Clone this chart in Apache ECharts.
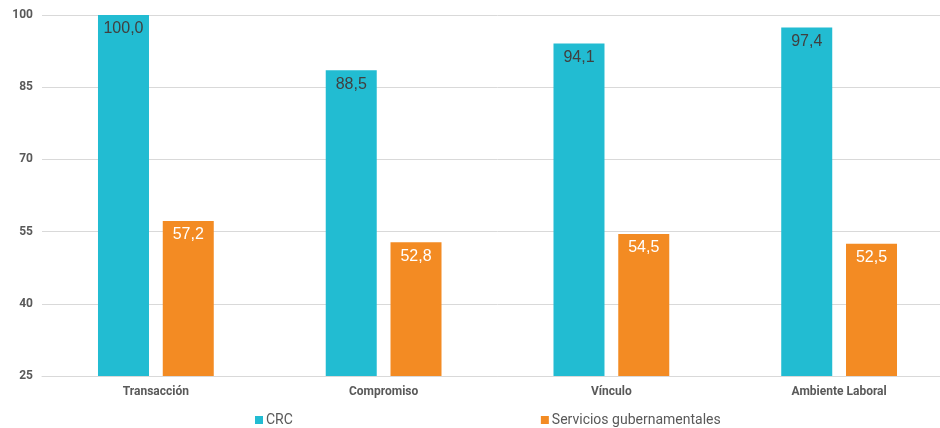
<!DOCTYPE html>
<html>
<head>
<meta charset="utf-8">
<script src="https://cdn.jsdelivr.net/npm/echarts@6/dist/echarts.min.js"></script>
<style>
  html, body { margin: 0; padding: 0; background: #fff; overflow: hidden; }
  /* the source picture is cropped on the right, so the canvas is a bit wider than the window */
  #chart { width: 953px; height: 428px; }
</style>
</head>
<body>
<div id="chart"></div>
<script>
// chart data
const categories = ["Transacción", "Compromiso", "Vínculo", "Ambiente Laboral"];
const crcValues = [100.0, 88.5, 94.1, 97.4];
const govValues = [57.2, 52.8, 54.5, 52.5];
const yTicks = [25, 40, 55, 70, 85, 100];

const fmt = (p) => p.value.toFixed(1).replace(".", ",");

const chart = echarts.init(document.getElementById("chart"), null, { renderer: "canvas" });

chart.setOption({
  animation: false,
  backgroundColor: "#ffffff",
  textStyle: { fontFamily: "Roboto, Arial, sans-serif" },
  grid: { left: 42, right: 0, top: 15, bottom: 52, containLabel: false },
  legend: {
    top: 408,
    left: 250,
    itemWidth: 8,
    itemHeight: 8,
    itemGap: 248,
    icon: "rect",
    textStyle: { color: "#595959", fontSize: 14, fontFamily: "Roboto, Arial, sans-serif", padding: [0, 0, 0, -2] },
    data: ["CRC", "Servicios gubernamentales"]
  },
  xAxis: {
    type: "category",
    data: categories,
    axisLine: { lineStyle: { color: "#d9d9d9" } },
    axisTick: { show: false },
    axisLabel: { color: "#595959", fontSize: 12, fontWeight: "bold", margin: 10 }
  },
  yAxis: {
    type: "value",
    min: yTicks[0],
    max: yTicks[yTicks.length - 1],
    interval: 15,
    axisLine: { show: false },
    axisTick: { show: false },
    axisLabel: { color: "#595959", fontSize: 12, fontWeight: "bold", margin: 9 },
    splitLine: { lineStyle: { color: "#d9d9d9" } }
  },
  series: [
    {
      name: "CRC",
      type: "bar",
      data: crcValues,
      barWidth: 51,
      barGap: "27%",
      itemStyle: { color: "#22bcd2" },
      label: { show: true, position: "insideTop", distance: 6, color: "#404040", fontSize: 16, fontFamily: "Liberation Sans, Arial, sans-serif", formatter: fmt }
    },
    {
      name: "Servicios gubernamentales",
      type: "bar",
      data: govValues,
      barWidth: 51,
      itemStyle: { color: "#f38b23" },
      label: { show: true, position: "insideTop", distance: 6, color: "#ffffff", fontSize: 16, fontFamily: "Liberation Sans, Arial, sans-serif", formatter: fmt }
    }
  ]
});
</script>
</body>
</html>
